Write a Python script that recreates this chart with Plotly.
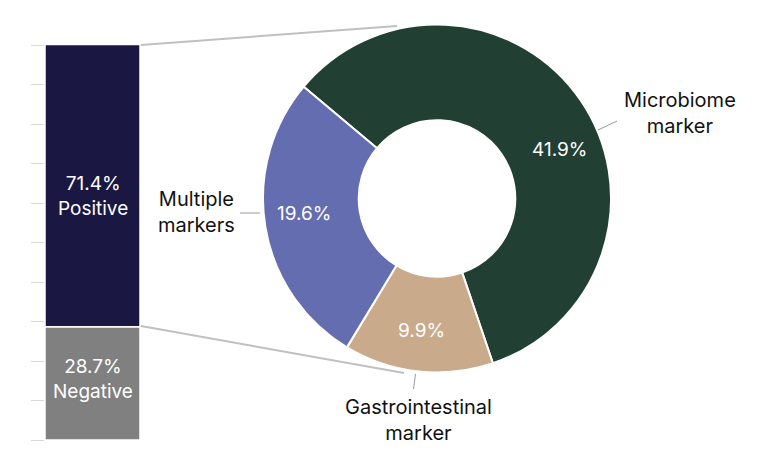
import plotly.graph_objects as go

# Data
bar_labels = ["Negative", "Positive"]
bar_values = [28.7, 71.4]
bar_colors = ["#808080", "#1B1743"]

donut_labels = ["Microbiome<br>marker", "Gastrointestinal<br>marker", "Multiple<br>markers"]
donut_values = [41.9, 9.9, 19.6]
donut_colors = ["#213F32", "#C9AA8B", "#646DAF"]

OFF = 8  # default page body margin
W, H = 780 - OFF, 470 - OFF
FONT = "Inter, Open Sans, sans-serif"

def px(x):
    return (x - OFF) / W

def py(y):
    return 1 - (y - OFF) / H

fig = go.Figure()

bar_text_shift = [4, -10]
base = 0
for lab, val, col, sh in zip(bar_labels, bar_values, bar_colors, bar_text_shift):
    fig.add_trace(go.Bar(
        x=[0], y=[val], base=[base], width=[1],
        marker=dict(color=col, line=dict(color="white", width=1.5)),
        showlegend=False, hoverinfo="skip",
    ))
    fig.add_annotation(xref="x", yref="y", x=0, y=base + val / 2, yshift=sh,
                       text=f"{val:.1f}%<br>{lab}", showarrow=False,
                       font=dict(color="white", size=19, family=FONT),
                       xanchor="center", yanchor="middle")
    base += val

fig.add_trace(go.Pie(
    labels=donut_labels, values=donut_values,
    marker=dict(colors=donut_colors, line=dict(color="white", width=2)),
    hole=0.45, sort=False, direction="clockwise", rotation=310,
    textinfo="none",
    domain=dict(x=[px(263), px(611)], y=[py(373), py(24)]),
    showlegend=False, hoverinfo="skip",
))

fig.update_layout(
    width=W, height=H,
    margin=dict(l=0, r=0, t=0, b=0),
    paper_bgcolor="white", plot_bgcolor="white",
    barmode="overlay",
    xaxis=dict(domain=[px(45), px(140)], range=[-0.5, 0.5], visible=False),
    yaxis=dict(domain=[py(440), py(45)], range=[0, 100], tickvals=list(range(0, 101, 10)),
               ticks="outside", ticklen=13, tickcolor="#D9D9D9", tickwidth=1,
               showticklabels=False, showgrid=False, zeroline=False, showline=False),
    font=dict(family=FONT, color="#111111"),
)

# connector lines
fig.add_shape(type="line", xref="paper", yref="paper",
              x0=px(141), y0=py(45), x1=px(397), y1=py(26),
              line=dict(color="#C0C0C0", width=2))
fig.add_shape(type="line", xref="paper", yref="paper",
              x0=px(141), y0=py(326), x1=px(404), y1=py(373),
              line=dict(color="#C0C0C0", width=2))
# leader lines
lead = dict(color="#999999", width=1)
fig.add_shape(type="line", xref="paper", yref="paper",
              x0=px(598), y0=py(130), x1=px(617), y1=py(121), line=lead)
fig.add_shape(type="line", xref="paper", yref="paper",
              x0=px(415.5), y0=py(374), x1=px(413.5), y1=py(389), line=lead)
fig.add_shape(type="line", xref="paper", yref="paper",
              x0=px(240), y0=py(213), x1=px(260), y1=py(213), line=lead)

# category labels
ann_font = dict(family=FONT, size=20, color="#111111")
label_pos = [(680, 113), (418, 420), (196, 212)]
for lab, (x, y) in zip(donut_labels, label_pos):
    fig.add_annotation(xref="paper", yref="paper", x=px(x), y=py(y), text=lab,
                       showarrow=False, font=ann_font, xanchor="center", yanchor="middle")

# percentage labels in the ring
pct_font = dict(family=FONT, size=19, color="white")
pct_pos = [(559, 150), (421, 330), (304, 213)]
for val, (x, y) in zip(donut_values, pct_pos):
    fig.add_annotation(xref="paper", yref="paper", x=px(x), y=py(y), text=f"{val:.1f}%",
                       showarrow=False, font=pct_font, xanchor="center", yanchor="middle")

fig.write_html("out.html")
